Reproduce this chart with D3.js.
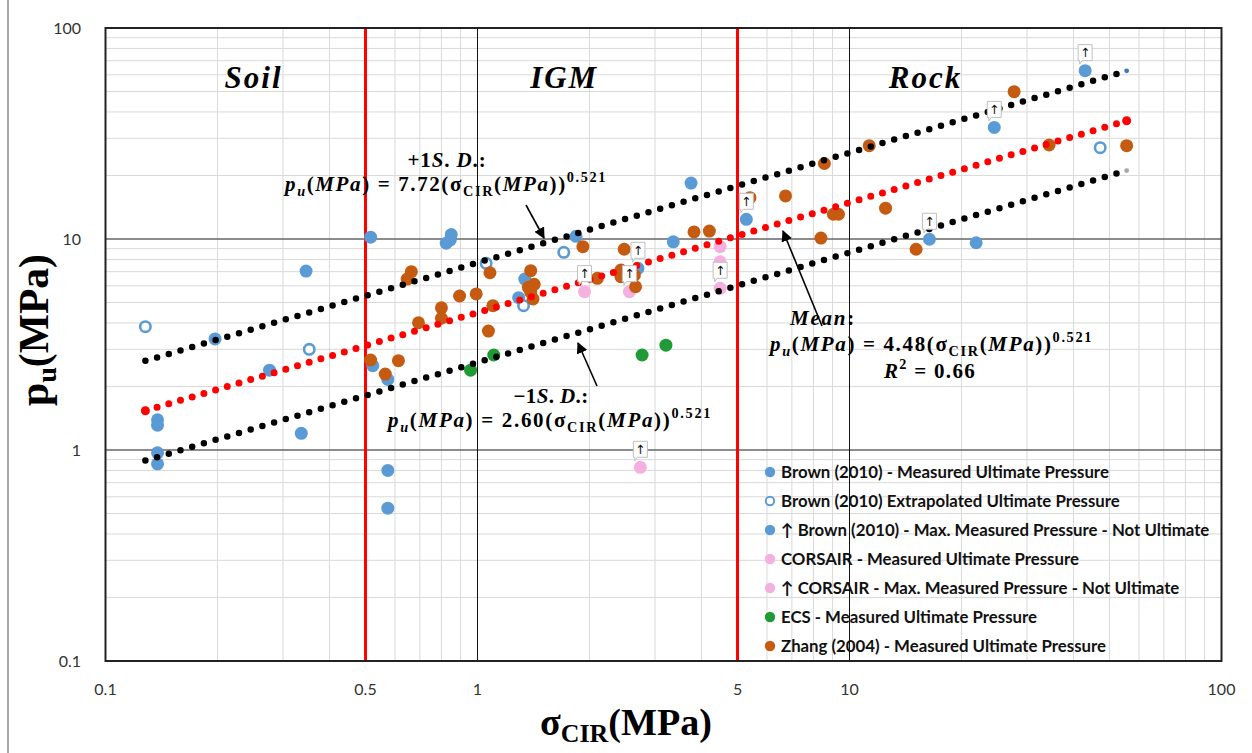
<!DOCTYPE html>
<html><head><meta charset="utf-8">
<script src="https://cdn.jsdelivr.net/npm/d3@7"></script>
<style>body{margin:0;background:#fff;} svg{display:block}</style>
</head><body><svg id="c" width="1252" height="753"></svg>
<script>
// ---------------- DATA ----------------
const xTickValues = [0.1, 0.5, 1, 5, 10, 100];
const yTickValues = [0.1, 1, 10, 100];
const zoneBounds = [0.5, 5];
const zoneLabels = [["Soil", 0.25], ["IGM", 1.71], ["Rock", 16]];

const brownMeasured = [
  [0.138,1.39],[0.138,1.31],[0.138,0.97],[0.138,0.86],[0.197,3.36],[0.276,2.39],
  [0.336,1.20],[0.346,7.05],[0.516,10.2],[0.523,2.51],[0.574,2.16],[0.574,0.80],
  [0.574,0.53],[0.824,9.55],[0.845,9.9],[0.85,10.5],[1.29,5.27],[1.34,6.46],
  [1.84,10.3],[3.36,9.7],[3.75,18.4],[21.9,9.6]
];
const brownExtrapolated = [
  [0.128,3.84],[0.353,3.0],[1.055,7.67],[1.33,4.83],[1.706,8.65],[47.2,27.1]
];
const brownMaxNotUltimate = [
  [2.70,7.26],[5.28,12.4],[16.4,9.97],[24.5,33.8],[43.0,62.8]
];
const corsairMeasured = [[4.49,9.2],[4.49,7.8]];
const corsairMaxNotUltimate = [[1.94,5.63],[2.56,5.63],[4.49,5.84],[2.74,0.828]];
const ecsMeasured = [[0.958,2.39],[1.106,2.82],[2.77,2.82],[3.21,3.14]];
const zhangMeasured = [
  [0.516,2.67],[0.565,2.29],[0.613,2.65],[0.647,6.46],[0.664,7.0],[0.694,4.01],
  [0.80,4.72],[0.80,4.21],[0.895,5.37],[0.992,5.49],[1.07,3.66],[1.08,6.92],
  [1.10,4.83],[1.37,5.9],[1.42,6.1],[1.41,5.2],[1.39,5.6],[1.39,7.08],[1.92,9.2],
  [2.10,6.51],[2.43,7.13],[2.43,6.63],[2.48,8.94],[2.64,6.74],[2.66,5.94],
  [3.82,10.8],[4.20,10.9],[5.40,15.7],[6.73,16.0],[8.38,10.1],[8.56,22.8],
  [9.05,13.1],[9.34,13.1],[11.3,27.7],[12.5,14.0],[15.1,8.94],[27.7,49.9],
  [34.4,27.9],[55.6,27.7]
];
const fitNames = ["plus", "mean", "minus"];
const fitCoefs = [7.72, 4.48, 2.60];
const fitExponent = 0.521;
const fitRange = [0.128, 54];
const fitEndX = 55.6;

const legendLabels = [
  "Brown (2010) - Measured Ultimate Pressure",
  "Brown (2010) Extrapolated Ultimate Pressure",
  "\u2191 Brown (2010) - Max. Measured Pressure - Not Ultimate",
  "CORSAIR - Measured Ultimate Pressure",
  "\u2191 CORSAIR - Max. Measured Pressure - Not Ultimate",
  "ECS - Measured Ultimate Pressure",
  "Zhang (2004) - Measured Ultimate Pressure"
];

// ---------------- STYLE ----------------
const BLUE = "#5B9BD5", PINK = "#F4B1DF", GREEN = "#1F9A35", ORANGE = "#C55A11";
const SERIF = "'Liberation Serif', 'DejaVu Serif', serif";
const SANS = "Lato, 'Open Sans', sans-serif";

const svg = d3.select("#c");
const x = d3.scaleLog().domain([0.1, 100]).range([105.5, 1221.5]);
const y = d3.scaleLog().domain([0.1, 100]).range([661, 28]);
const X0 = x.range()[0], X1 = x.range()[1], YT = y.range()[1], YB = y.range()[0];

// page edge line
svg.append("line").attr("x1", 8).attr("x2", 8).attr("y1", 0).attr("y2", 753)
  .attr("stroke", "#555").attr("stroke-width", 1);

// minor grid
const minor = [];
[-1, 0, 1].forEach(d => { for (let m = 2; m <= 9; m++) minor.push(+(m * Math.pow(10, d)).toPrecision(3)); });
const g = svg.append("g");
g.selectAll(".vmin").data(minor).join("line")
  .attr("x1", d => x(d)).attr("x2", d => x(d)).attr("y1", YT).attr("y2", YB)
  .attr("stroke", "#d9d9d9").attr("stroke-width", 1);
g.selectAll(".hmin").data(minor).join("line")
  .attr("y1", d => y(d)).attr("y2", d => y(d)).attr("x1", X0).attr("x2", X1)
  .attr("stroke", "#d9d9d9").attr("stroke-width", 1);
// major grid
g.selectAll(".hmaj").data([1, 10]).join("line")
  .attr("y1", d => y(d)).attr("y2", d => y(d)).attr("x1", X0).attr("x2", X1)
  .attr("stroke", "#666").attr("stroke-width", 1.5);
g.selectAll(".vmaj").data([1, 10]).join("line")
  .attr("x1", d => x(d)).attr("x2", d => x(d)).attr("y1", YT).attr("y2", YB)
  .attr("stroke", "#111").attr("stroke-width", 1);

// zone boundaries
g.selectAll(".zone").data(zoneBounds).join("line")
  .attr("x1", d => x(d)).attr("x2", d => x(d)).attr("y1", YT).attr("y2", YB)
  .attr("stroke", "#FF0000").attr("stroke-width", 3);

// border
svg.append("rect").attr("x", X0).attr("y", YT).attr("width", X1 - X0).attr("height", YB - YT)
  .attr("fill", "none").attr("stroke", "#222").attr("stroke-width", 2);

// tick labels
svg.selectAll(".xt").data(xTickValues).join("text")
  .attr("x", d => x(d)).attr("y", 689).attr("dy", "0.35em").attr("text-anchor", "middle")
  .attr("font-family", SANS).attr("font-size", 16).attr("fill", "#333").text(d => d);
svg.selectAll(".yt").data(yTickValues).join("text")
  .attr("x", 81).attr("y", d => y(d)).attr("dy", "0.35em").attr("text-anchor", "end")
  .attr("font-family", SANS).attr("font-size", 16).attr("fill", "#333").text(d => d);

// ---------------- MARKERS ----------------
const R = 6.5;
function dots(data, fill) {
  svg.append("g").selectAll("circle").data(data).join("circle")
    .attr("cx", d => x(d[0])).attr("cy", d => y(d[1])).attr("r", R).attr("fill", fill);
}
dots(brownMeasured, BLUE);
svg.append("g").selectAll("circle").data(brownExtrapolated).join("circle")
  .attr("cx", d => x(d[0])).attr("cy", d => y(d[1])).attr("r", R - 1.3)
  .attr("fill", "#fff").attr("stroke", BLUE).attr("stroke-width", 2.6);
dots(brownMaxNotUltimate, BLUE);
dots(corsairMeasured, PINK);
dots(corsairMaxNotUltimate, PINK);
dots(ecsMeasured, GREEN);
dots(zhangMeasured, ORANGE);

// ---------------- FIT LINES ----------------
const fitColors = ["#000", "#FF0000", "#000"];
const endColors = ["#4472C4", "#FF0000", "#A5A5A5"];
const line = d3.line().x(d => x(d[0])).y(d => y(d[1]));
fitCoefs.forEach((c, i) => {
  const pts = fitRange.map(v => [v, c * Math.pow(v, fitExponent)]);
  svg.append("path").attr("d", line(pts)).attr("fill", "none")
    .attr("stroke", fitColors[i]).attr("stroke-width", i === 1 ? 7 : 6.5)
    .attr("stroke-linecap", "round").attr("stroke-dasharray", "0 12.2");
  svg.append("circle").attr("cx", x(fitEndX)).attr("cy", y(c * Math.pow(fitEndX, fitExponent)))
    .attr("r", i === 1 ? 4.5 : 2.4).attr("fill", endColors[i]);
  if (i === 1) {
    svg.append("circle").attr("cx", x(fitRange[0])).attr("cy", y(c * Math.pow(fitRange[0], fitExponent)))
      .attr("r", 4.5).attr("fill", endColors[i]);
  }
});

// ---------------- CALLOUT ARROWS ----------------
function callouts(data) {
  const gg = svg.append("g").selectAll("g").data(data).join("g")
    .attr("transform", d => `translate(${x(d[0])},${y(d[1])})`);
  gg.append("path")
    .attr("d", "M-7,-26 H7 V-10 H-3 L-5.5,-6.5 V-10 H-7 Z")
    .attr("fill", "#fff").attr("stroke", "#bfbfbf").attr("stroke-width", 1);
  gg.append("text").attr("x", 0).attr("y", -13.5).attr("text-anchor", "middle")
    .attr("font-family", "'DejaVu Sans', sans-serif").attr("font-size", 12.5)
    .attr("fill", "#111").text("\u2191");
}
callouts(brownMaxNotUltimate);
callouts(corsairMaxNotUltimate);

// ---------------- RICH TEXT ----------------
function rich(parent, xPos, yPos, segs, size, anchor, targetW, fitBySize, subK) {
  const sk = subK || 0.25;
  const build = (sz) => {
    const t = parent.append("text").attr("x", xPos).attr("y", yPos)
      .attr("font-family", SERIF).attr("font-weight", "bold").attr("font-size", sz)
      .attr("fill", "#000").attr("text-anchor", anchor || "start");
    let off = 0;
    segs.forEach(([s, st]) => {
      const sp = t.append("tspan").text(s);
      let target = 0, fs = sz;
      if (st === "sub" || st === "isub") { target = sz * sk; fs = sz * 0.68; }
      if (st === "sup") { target = -sz * 0.42; fs = sz * 0.68; }
      if (st === "i" || st === "isub") sp.attr("font-style", "italic");
      sp.attr("font-size", fs);
      if (target !== off) { sp.attr("dy", target - off); off = target; }
    });
    return t;
  };
  let t = build(size);
  if (targetW) {
    const w = t.node().getComputedTextLength();
    if (fitBySize) {
      t.remove();
      t = build(size * targetW / w);
    } else {
      const n = segs.map(s => s[0]).join("").length;
      t.attr("letter-spacing", (targetW - w) / n);
    }
  }
  return t;
}

const EQ = 21;
const eqSegs = c => [["p", "i"], ["u", "isub"], ["(", "n"], ["MPa", "i"], [") = " + c + "(\u03C3", "n"],
  ["CIR", "sub"], ["(", "n"], ["MPa", "i"], ["))", "n"], ["0.521", "sup"]];
rich(svg, 447, 167, [["+1", "n"], ["S", "i"], [". ", "n"], ["D", "i"], [".:", "n"]], EQ, "middle", 79);
rich(svg, 285, 191, eqSegs("7.72"), EQ, "start", 322);
rich(svg, 551, 403, [["\u22121", "n"], ["S", "i"], [". ", "n"], ["D", "i"], [".:", "n"]], EQ, "middle", 75);
rich(svg, 388, 427, eqSegs("2.60"), EQ, "start", 324);
rich(svg, 823, 325, [["Mean", "i"], [":", "n"]], EQ, "middle", 66);
rich(svg, 770, 351, eqSegs("4.48"), EQ, "start", 323);
rich(svg, 930, 378, [["R", "i"], ["2", "sup"], [" = 0.66", "n"]], EQ, "middle", 92);

// arrows
svg.append("defs").append("marker").attr("id", "ah").attr("viewBox", "0 0 10 10")
  .attr("refX", 9).attr("refY", 5).attr("markerWidth", 7).attr("markerHeight", 7)
  .attr("orient", "auto").append("path").attr("d", "M0,0 L10,5 L0,10 z").attr("fill", "#000");
const arrows = [[526, 205, 544, 238], [822, 326, 783, 231], [597, 386, 578, 343]];
arrows.forEach(a => svg.append("line").attr("x1", a[0]).attr("y1", a[1]).attr("x2", a[2]).attr("y2", a[3])
  .attr("stroke", "#000").attr("stroke-width", 1.6).attr("marker-end", "url(#ah)"));

// zone labels
zoneLabels.forEach(([t, xv]) => {
  svg.append("text").attr("x", x(xv)).attr("y", 88).attr("text-anchor", "middle")
    .attr("font-family", SERIF).attr("font-weight", "bold").attr("font-style", "italic")
    .attr("font-size", 31).attr("letter-spacing", 2).text(t);
});

// axis titles
rich(svg, 626, 735, [["\u03C3", "n"], ["CIR", "sub"], ["(MPa)", "n"]], 27, "middle", 172, true, 0.18);
const yt = svg.append("g").attr("transform", "translate(48,330) rotate(-90)");
rich(yt, 0, 0, [["p", "n"], ["u", "sub"], ["(MPa)", "n"]], 27, "middle", 152, true, 0.2);

// ---------------- LEGEND ----------------
const legendMarkers = [
  {fill: BLUE}, {fill: "#fff", stroke: BLUE}, {fill: BLUE}, {fill: PINK}, {fill: PINK}, {fill: GREEN}, {fill: ORANGE}
];
const lg = svg.append("g");
legendLabels.forEach((lab, i) => {
  const yy = 472 + i * 29;
  const m = legendMarkers[i];
  lg.append("circle").attr("cx", 770).attr("cy", yy).attr("r", m.stroke ? 4.2 : 5.2)
    .attr("fill", m.fill).attr("stroke", m.stroke || "none").attr("stroke-width", 2);
  lg.append("text").attr("x", 781).attr("y", yy).attr("dy", "0.36em")
    .attr("font-family", SANS).attr("font-weight", "bold").attr("font-size", 16.8)
    .attr("fill", "#111").text(lab);
});
</script></body></html>
